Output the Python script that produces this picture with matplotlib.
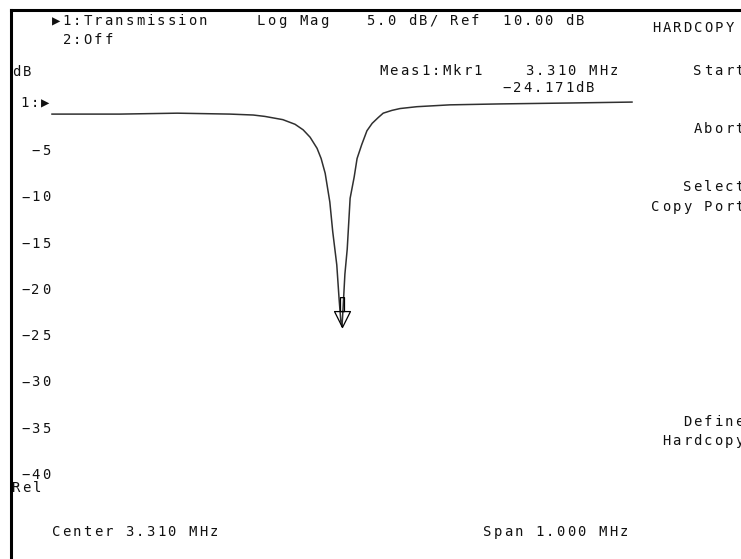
import numpy as np
import matplotlib.pyplot as plt
from matplotlib.path import Path
from matplotlib.lines import Line2D

# Swept transmission trace of the notch (MHz, dB)
freq_mhz = [2.810, 2.927, 3.026, 3.117, 3.157, 3.177, 3.208, 3.229, 3.243, 3.255,
            3.267, 3.274, 3.281, 3.289, 3.294, 3.301, 3.305, 3.308, 3.310, 3.312,
            3.315, 3.319, 3.324, 3.331, 3.336, 3.344, 3.353, 3.362, 3.372, 3.381,
            3.396, 3.410, 3.439, 3.496, 3.582, 3.703, 3.810]
mag_db = [-1.2, -1.2, -1.1, -1.2, -1.3, -1.45, -1.8, -2.3, -2.9, -3.7,
          -4.9, -6.0, -7.6, -10.7, -13.9, -17.5, -21.2, -23.6, -24.171, -22.0,
          -18.5, -15.8, -10.3, -8.0, -6.0, -4.5, -3.0, -2.2, -1.6, -1.1,
          -0.8, -0.6, -0.4, -0.2, -0.1, 0.0, 0.1]

center_mhz = 3.310
span_mhz = 1.000
ref_db = 0
scale_db = 5.0
n_div = 8
marker_freq = 3.310
marker_db = -24.171

tick_vals = [ref_db - scale_db * i for i in range(1, n_div + 1)]
tick_labels = [('%d' % v).replace('-', '\u2212') for v in tick_vals]

W, H = 741, 559
fig = plt.figure(figsize=(W / 100, H / 100), dpi=100)
fig.patch.set_facecolor('white')

# instrument screen font: fixed character cell
MONO = 'DejaVu Sans Mono'
FS = 10
PITCH = 10.5


def label(x, y, s, align='left'):
    # x is the left edge of the first cell (or right edge of the last one)
    if align == 'right':
        x = x - len(s) * PITCH
    for i, ch in enumerate(s):
        if ch == ' ':
            continue
        fig.text((x + i * PITCH) / W, 1 - y / H, ch, ha='left', va='center',
                 family=MONO, fontsize=FS, color='#111111')


# screen frame (left and top edges)
fig.add_artist(Line2D([11 / W, 11 / W], [0, 1 - 10 / H], color='black', lw=2.2,
                      transform=fig.transFigure))
fig.add_artist(Line2D([11 / W, 1], [1 - 10 / H, 1 - 10 / H], color='black', lw=2.2,
                      transform=fig.transFigure))

# graticule area: top = reference line, bottom = last division
x0, x1 = 52, 632
y_top, y_bot = 103, 473
ax = fig.add_axes([x0 / W, 1 - y_bot / H, (x1 - x0) / W, (y_bot - y_top) / H])
ax.set_xlim(center_mhz - span_mhz / 2, center_mhz + span_mhz / 2)
ax.set_ylim(ref_db - scale_db * n_div, ref_db)
ax.axis('off')

ax.plot(freq_mhz, mag_db, color='#303030', lw=1.1, clip_on=False)

# marker: hollow down-triangle with a short stem, tip on the trace
mkr = Path([(0.0, 0.0), (-0.5, 1.0), (0.5, 1.0), (0.0, 0.0),
            (-0.125, 1.0), (-0.125, 1.875), (0.125, 1.875), (0.125, 1.0), (-0.125, 1.0)],
           [Path.MOVETO, Path.LINETO, Path.LINETO, Path.CLOSEPOLY,
            Path.MOVETO, Path.LINETO, Path.LINETO, Path.LINETO, Path.CLOSEPOLY])
ax.plot([marker_freq], [marker_db], marker=mkr, ms=43, mfc='none', mec='black',
        mew=0.9, clip_on=False, zorder=3)

# amplitude labels
for v, s in zip(tick_vals, tick_labels):
    yy = y_top + (ref_db - v) / (scale_db * n_div) * (y_bot - y_top)
    label(52.5, yy + 2, s, align='right')
label(20, y_top, '1:\u25b6')
label(12, 72, 'dB')
label(12, y_bot + 15, 'Rel')

# header
label(52, 21, '\u25b61:Transmission')
label(62.5, 40, '2:Off')
label(257, 21, 'Log Mag')
label(366, 21, '%.1f dB/ Ref  %.2f dB' % (scale_db, 10.0))
label(652, 28, 'HARDCOPY')

# marker readout
label(379, 71, 'Meas1:Mkr1')
label(620, 71, '%.3f MHz' % marker_freq, align='right')
label(502, 88, ('%.3fdB' % marker_db).replace('-', '\u2212'))

# softkey menu
label(746, 71, 'Start', align='right')
label(746, 129, 'Abort', align='right')
label(746, 187, 'Select', align='right')
label(746, 207, 'Copy Port', align='right')
label(746, 422, 'Define', align='right')
label(746, 441, 'Hardcopy', align='right')

# footer
label(52, 532, 'Center %.3f MHz' % center_mhz)
label(483, 532, 'Span %.3f MHz' % span_mhz)

fig.savefig('out.png', dpi=100, facecolor='white')
